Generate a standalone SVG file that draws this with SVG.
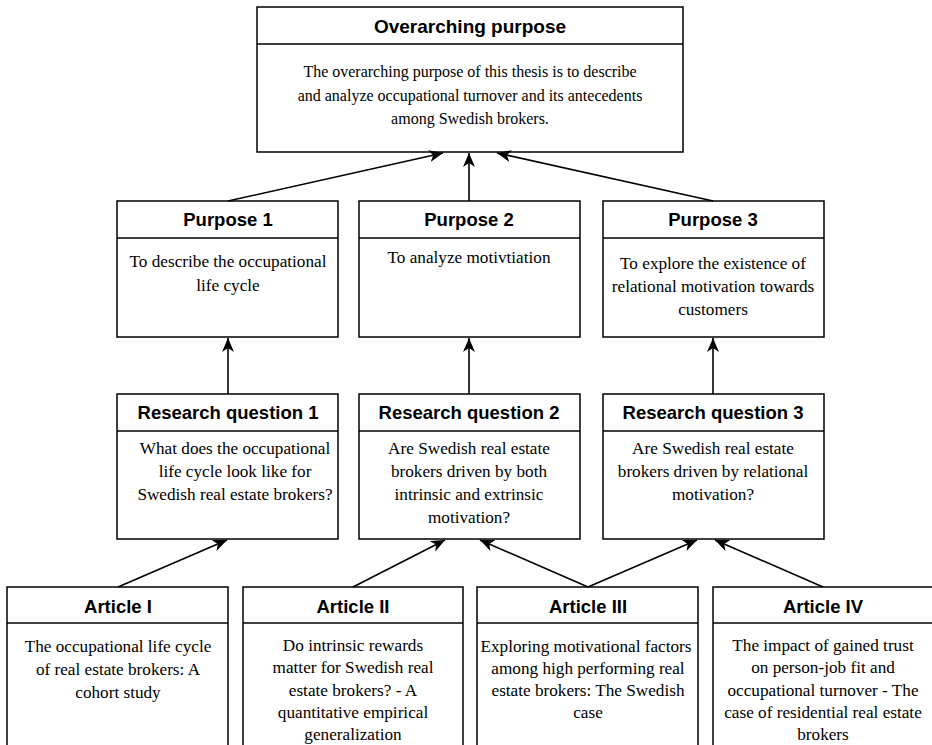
<svg xmlns="http://www.w3.org/2000/svg" width="932" height="745" viewBox="0 0 932 745">
<defs>
<style>
.box{fill:#fff;stroke:#000;stroke-width:1.5}
.sep{stroke:#000;stroke-width:1.5}
.hd{font-family:"Liberation Sans",Arial,sans-serif;font-weight:bold;font-size:18.5px;text-anchor:middle;fill:#000}
.bd{font-family:"Liberation Serif","Times New Roman",serif;font-size:17.2px;text-anchor:middle;fill:#000}
.con line{stroke:#000;stroke-width:1.6;marker-end:url(#arr)}
</style>
<marker id="arr" markerUnits="userSpaceOnUse" viewBox="0 0 14 12" markerWidth="14" markerHeight="12" refX="14" refY="6" orient="auto">
<path d="M0,0 L14,6 L0,12 L4,6 z" fill="#000"/>
</marker>
</defs>
<rect width="932" height="745" fill="#fff"/>

<g id="overarching">
<rect class="box" x="257" y="7" width="426" height="145"/>
<line class="sep" x1="257" y1="44" x2="683" y2="44"/>
<text class="hd" x="470" y="33" style="font-size:19px">Overarching purpose</text>
<text class="bd" x="470" y="77" style="font-size:16px">The overarching purpose of this thesis is to describe</text>
<text class="bd" x="470" y="101" style="font-size:16px">and analyze occupational turnover and its antecedents</text>
<text class="bd" x="470" y="124" style="font-size:16px">among Swedish brokers.</text>
</g>

<g id="purpose1">
<rect class="box" x="117" y="201" width="221" height="136"/>
<line class="sep" x1="117" y1="238" x2="338" y2="238"/>
<text class="hd" x="228" y="226">Purpose 1</text>
<text class="bd" x="228" y="267">To describe the occupational</text>
<text class="bd" x="228" y="291">life cycle</text>
</g>

<g id="purpose2">
<rect class="box" x="359" y="201" width="221" height="136"/>
<line class="sep" x1="359" y1="238" x2="580" y2="238"/>
<text class="hd" x="469" y="226">Purpose 2</text>
<text class="bd" x="469" y="263">To analyze motivtiation</text>
</g>

<g id="purpose3">
<rect class="box" x="603" y="201" width="221" height="136"/>
<line class="sep" x1="603" y1="238" x2="824" y2="238"/>
<text class="hd" x="713" y="226">Purpose 3</text>
<text class="bd" x="713" y="269">To explore the existence of</text>
<text class="bd" x="713" y="292">relational motivation towards</text>
<text class="bd" x="713" y="315">customers</text>
</g>

<g id="rq1">
<rect class="box" x="117" y="394" width="221" height="145"/>
<line class="sep" x1="117" y1="431" x2="338" y2="431"/>
<text class="hd" x="228" y="419">Research question 1</text>
<text class="bd" x="235" y="454">What does the occupational</text>
<text class="bd" x="235" y="477">life cycle look like for</text>
<text class="bd" x="235" y="500">Swedish real estate brokers?</text>
</g>

<g id="rq2">
<rect class="box" x="359" y="394" width="221" height="145"/>
<line class="sep" x1="359" y1="431" x2="580" y2="431"/>
<text class="hd" x="469" y="419">Research question 2</text>
<text class="bd" x="469" y="454">Are Swedish real estate</text>
<text class="bd" x="469" y="477">brokers driven by both</text>
<text class="bd" x="469" y="500">intrinsic and extrinsic</text>
<text class="bd" x="469" y="523">motivation?</text>
</g>

<g id="rq3">
<rect class="box" x="603" y="394" width="221" height="145"/>
<line class="sep" x1="603" y1="431" x2="824" y2="431"/>
<text class="hd" x="713" y="419">Research question 3</text>
<text class="bd" x="713" y="454">Are Swedish real estate</text>
<text class="bd" x="713" y="477">brokers driven by relational</text>
<text class="bd" x="713" y="500">motivation?</text>
</g>

<g id="article1">
<rect class="box" x="7" y="587" width="221" height="180"/>
<line class="sep" x1="7" y1="623" x2="228" y2="623"/>
<text class="hd" x="118" y="613">Article I</text>
<text class="bd" x="118" y="652">The occupational life cycle</text>
<text class="bd" x="118" y="675">of real estate brokers: A</text>
<text class="bd" x="118" y="698">cohort study</text>
</g>

<g id="article2">
<rect class="box" x="243" y="587" width="220" height="180"/>
<line class="sep" x1="243" y1="623" x2="463" y2="623"/>
<text class="hd" x="353" y="613">Article II</text>
<text class="bd" x="353" y="651">Do intrinsic rewards</text>
<text class="bd" x="353" y="673">matter for Swedish real</text>
<text class="bd" x="353" y="696">estate brokers? - A</text>
<text class="bd" x="353" y="718">quantitative empirical</text>
<text class="bd" x="353" y="740">generalization</text>
</g>

<g id="article3">
<rect class="box" x="477" y="587" width="221" height="180"/>
<line class="sep" x1="477" y1="623" x2="698" y2="623"/>
<text class="hd" x="588" y="613">Article III</text>
<text class="bd" x="586" y="652">Exploring motivational factors</text>
<text class="bd" x="588" y="674">among high performing real</text>
<text class="bd" x="588" y="696">estate brokers: The Swedish</text>
<text class="bd" x="588" y="718">case</text>
</g>

<g id="article4">
<rect class="box" x="713" y="587" width="220" height="180"/>
<line class="sep" x1="713" y1="623" x2="933" y2="623"/>
<text class="hd" x="823" y="613">Article IV</text>
<text class="bd" x="823" y="651">The impact of gained trust</text>
<text class="bd" x="823" y="673">on person-job fit and</text>
<text class="bd" x="823" y="696">occupational turnover - The</text>
<text class="bd" x="823" y="718">case of residential real estate</text>
<text class="bd" x="823" y="740">brokers</text>
</g>

<g id="connectors" class="con">
<line x1="228" y1="201" x2="443" y2="153"/>
<line x1="469" y1="201" x2="469" y2="153"/>
<line x1="713" y1="201" x2="497" y2="153"/>
<line x1="228" y1="394" x2="228" y2="338"/>
<line x1="469" y1="394" x2="469" y2="338"/>
<line x1="713" y1="394" x2="713" y2="338"/>
<line x1="118" y1="587" x2="227" y2="540"/>
<line x1="353" y1="587" x2="445" y2="540"/>
<line x1="588" y1="587" x2="480" y2="540"/>
<line x1="588" y1="587" x2="697" y2="540"/>
<line x1="823" y1="587" x2="715" y2="540"/>
</g>
</svg>
